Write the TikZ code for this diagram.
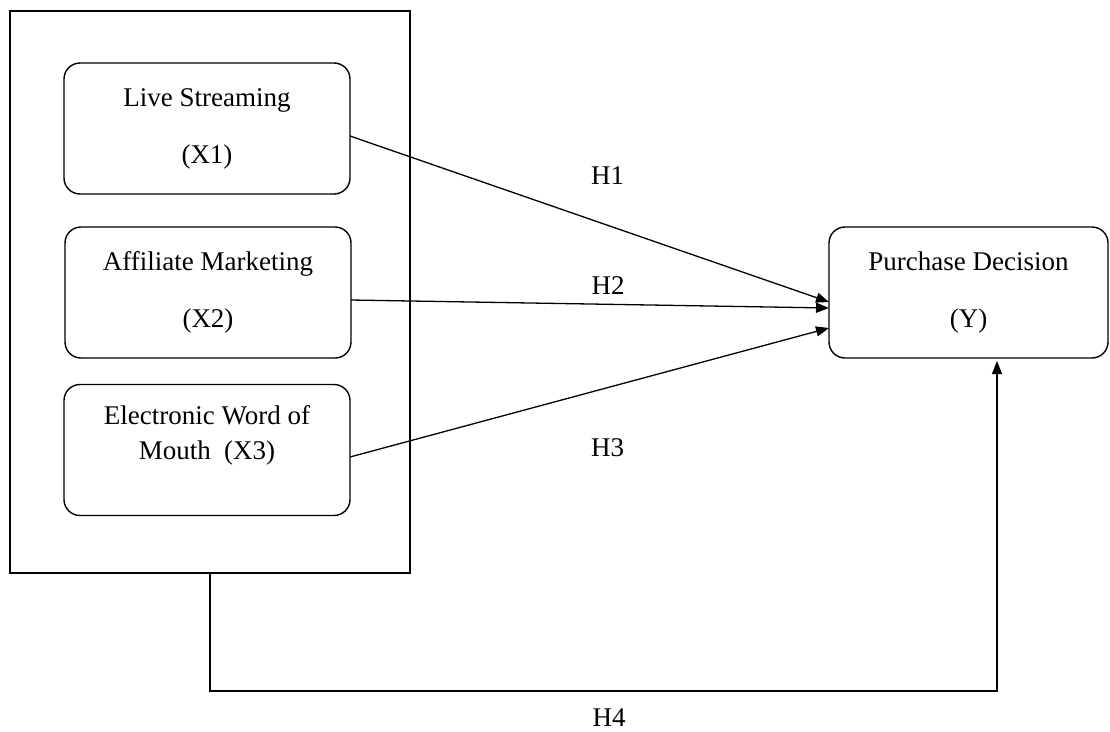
\documentclass[tikz,border=0pt]{standalone}
\usepackage{fontspec}
\setmainfont{Liberation Serif}
\usetikzlibrary{arrows.meta,calc}
\begin{document}
\begin{tikzpicture}[x=1pt,y=-1pt,
  every node/.style={font=\fontsize{27}{30}\selectfont, inner sep=0pt, outer sep=0pt},
  var/.style={draw, line width=1.4pt, rounded corners=16pt, minimum width=286pt, minimum height=131pt, align=center},
  frame/.style={draw, line width=1.4pt, minimum width=400pt, minimum height=562pt},
  arr/.style={line width=1.3pt, -{Triangle[length=13pt,width=10pt]}},
  lab/.style={font=\fontsize{27}{30}\selectfont}
]
\useasboundingbox (0,0) rectangle (1110,731);
\node[frame] (outer) at (210,292) {};
\node[var] (x1) at (207,128.5) {Live Streaming\\[27pt](X1)};
\node[var] (x2) at (208,292.5) {Affiliate Marketing\\[27pt](X2)};
\node[var] (x3) at (207,450) {Electronic Word of\\[5pt]Mouth~~(X3)\\[5pt]\mbox{}};
\node[var, minimum width=279pt] (y) at (968.5,292.5) {Purchase Decision\\[27pt](Y)};
\coordinate (turn) at (997,691);
\draw[arr] ([yshift=-7.5pt]x1.east) -- node[lab, pos=0.538, yshift=50pt] (h1) {H1} ([yshift=-9.5pt]y.west);
\draw[arr] ([yshift=-7.5pt]x2.east) -- node[lab, pos=0.538, yshift=19pt] (h2) {H2} ([yshift=-15.5pt]y.west);
\draw[arr] ([yshift=-7pt]x3.east) -- node[lab, pos=0.538, yshift=-60pt] (h3) {H3} ([yshift=-35.5pt]y.west);
\draw[arr, shorten >=3pt] (outer.south) |- node[lab, pos=0.7535, yshift=-27pt] (h4) {H4} (turn) -- (y.south -| turn);
\end{tikzpicture}
\end{document}
